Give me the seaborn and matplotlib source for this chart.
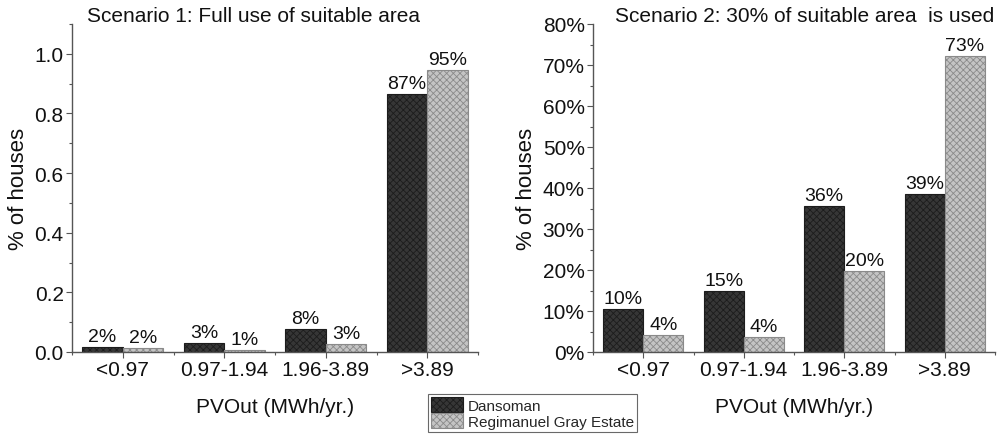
import matplotlib
matplotlib.use("Agg")
import matplotlib.pyplot as plt
import seaborn as sns
import pandas as pd
import numpy as np
from matplotlib.ticker import PercentFormatter, MultipleLocator
from matplotlib.patches import Patch

categories = ["<0.97", "0.97-1.94", "1.96-3.89", ">3.89"]
series = ["Dansoman", "Regimanuel Gray Estate"]

s1_dansoman = [0.018, 0.029, 0.077, 0.866]
s1_regimanuel = [0.013, 0.006, 0.026, 0.947]
s1_labels_d = ["2%", "3%", "8%", "87%"]
s1_labels_r = ["2%", "1%", "3%", "95%"]

s2_dansoman = [0.104, 0.150, 0.357, 0.385]
s2_regimanuel = [0.042, 0.037, 0.197, 0.723]
s2_labels_d = ["10%", "15%", "36%", "39%"]
s2_labels_r = ["4%", "4%", "20%", "73%"]

titles = ["Scenario 1: Full use of suitable area", "Scenario 2: 30% of suitable area  is used"]
xlabel = "PVOut (MWh/yr.)"
ylabel = "% of houses"

sns.set_theme(style="ticks")
plt.rcParams["font.family"] = ["Liberation Sans", "DejaVu Sans"]
plt.rcParams["hatch.linewidth"] = 0.6

fig = plt.figure(figsize=(9.98, 4.39), dpi=100)
ax1 = fig.add_axes([72/998, 1-353/439, (478-72)/998, (353-25)/439])
ax2 = fig.add_axes([593/998, 1-353/439, (995-593)/998, (353-25)/439])

face = {"Dansoman": "#363636", "Regimanuel Gray Estate": "#c4c4c4"}
edge = {"Dansoman": "#1c1c1c", "Regimanuel Gray Estate": "#8a8a8a"}

def make_df(d, r):
    return pd.DataFrame({
        "cat": categories * 2,
        "series": [series[0]] * 4 + [series[1]] * 4,
        "val": list(d) + list(r),
    })

def draw(ax, d, r, ld, lr, ylim, title, title_x):
    df = make_df(d, r)
    sns.barplot(data=df, x="cat", y="val", hue="series", order=categories,
                hue_order=series, palette=face, width=0.8, ax=ax,
                legend=False, saturation=1)
    for i, p in enumerate(ax.patches):
        s = series[0] if i < 4 else series[1]
        p.set_facecolor(face[s])
        p.set_edgecolor(edge[s])
        p.set_hatch("xxxxx")
        p.set_linewidth(0.8)
    labels = ld + lr
    for p, lab in zip(ax.patches, labels):
        ax.text(p.get_x() + p.get_width() / 2, p.get_height() + ylim * 0.006, lab,
                ha="center", va="bottom", fontsize=14, color="#111111")
    ax.set_xlim(-0.5, 3.5)
    ax.set_ylim(0, ylim)
    ax.set_xlabel(xlabel, fontsize=15, color="#111111", labelpad=13)
    ax.set_ylabel(ylabel, fontsize=16, color="#111111")
    ax.tick_params(axis="both", which="major", direction="out", length=4,
                   width=0.8, color="#555555", labelcolor="#111111")
    ax.tick_params(axis="y", labelsize=15, pad=2)
    ax.tick_params(axis="x", labelsize=15, pad=2)
    ax.tick_params(axis="both", which="minor", direction="out", length=2.5,
                   width=0.8, color="#555555")
    ax.set_xticks(np.arange(-0.5, 4, 1.0), minor=True)
    for sp in ["top", "right"]:
        ax.spines[sp].set_visible(False)
    for sp in ["left", "bottom"]:
        ax.spines[sp].set_color("#555555")
        ax.spines[sp].set_linewidth(1.0)
    fig.text(title_x, 1 - 17/439, title, ha="center", va="center",
             fontsize=15, color="#111111")

draw(ax1, s1_dansoman, s1_regimanuel, s1_labels_d, s1_labels_r, 1.1, titles[0], 254/998)
ax1.yaxis.set_major_locator(MultipleLocator(0.2))
ax1.yaxis.set_minor_locator(MultipleLocator(0.1))
ax1.set_yticks(np.arange(0, 1.01, 0.2))
ax1.set_yticklabels([f"{v:.1f}" for v in np.arange(0, 1.01, 0.2)])
ax1.set_ylim(0, 1.1)

draw(ax2, s2_dansoman, s2_regimanuel, s2_labels_d, s2_labels_r, 0.8, titles[1], 805/998)
ax2.yaxis.set_major_locator(MultipleLocator(0.1))
ax2.yaxis.set_minor_locator(MultipleLocator(0.05))
ax2.yaxis.set_major_formatter(PercentFormatter(1.0, decimals=0))
ax2.set_ylim(0, 0.8)

ax1.yaxis.set_label_coords(-0.105, 0.5)
ax2.yaxis.set_label_coords(-0.14, 0.5)

handles = [Patch(facecolor=face[s], edgecolor=edge[s], hatch="xxxxx", linewidth=0.8) for s in series]
leg = fig.legend(handles, series, loc="lower left", bbox_to_anchor=(428/998, 6/439),
                 fontsize=11, frameon=True, fancybox=False, borderpad=0.2,
                 handlelength=2.1, handleheight=1.1, handletextpad=0.3,
                 labelspacing=0.05, borderaxespad=0)
leg.get_frame().set_edgecolor("#444444")
leg.get_frame().set_linewidth(0.8)

fig.savefig("out.png", dpi=100)
